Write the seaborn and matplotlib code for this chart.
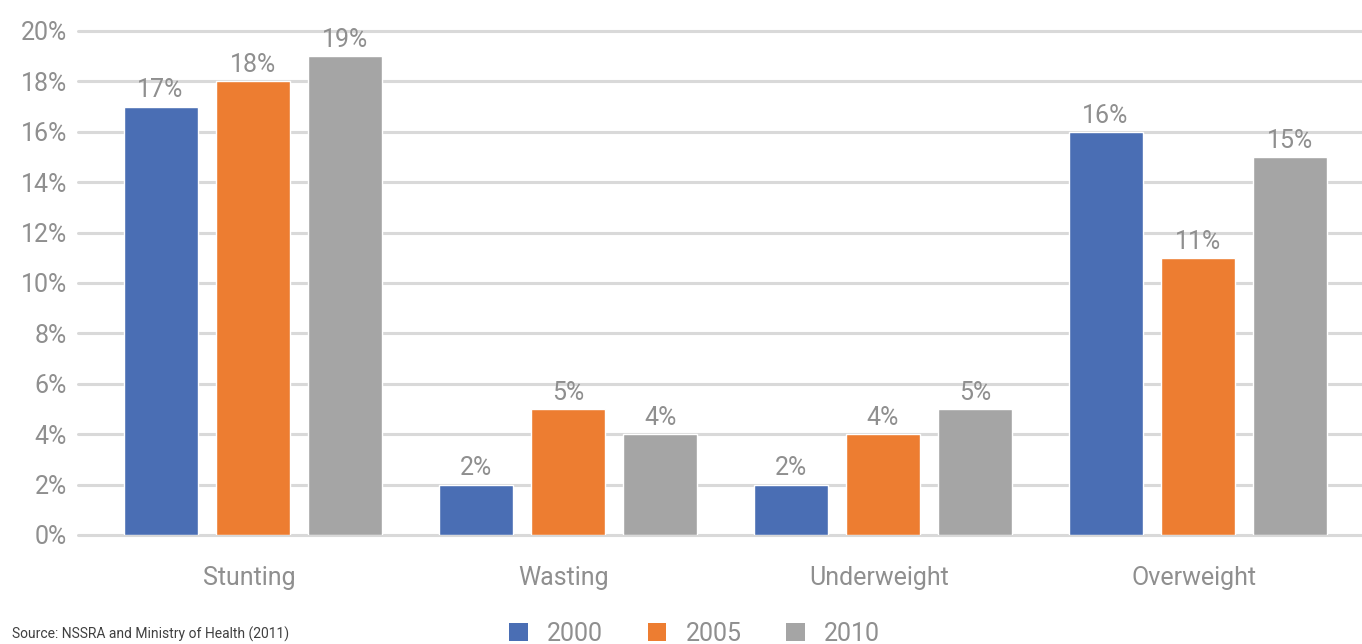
import numpy as np
import pandas as pd
import matplotlib.pyplot as plt
import matplotlib.transforms as mtransforms
import seaborn as sns
from matplotlib.patches import Patch

# data
categories = ['Stunting', 'Wasting', 'Underweight', 'Overweight']
years = ['2000', '2005', '2010']
values_2000 = [17, 2, 2, 16]
values_2005 = [18, 5, 4, 11]
values_2010 = [19, 4, 5, 15]
colors = ['#4A6EB4', '#ED7D31', '#A5A5A5']

df = pd.DataFrame({
    'category': categories * 3,
    'year': [y for y in years for _ in categories],
    'value': np.array(values_2000 + values_2005 + values_2010) / 100.0,
})

sns.set_style('white')
plt.rcParams['font.family'] = ['Roboto', 'DejaVu Sans']

fig = plt.figure(figsize=(13.62, 6.44), dpi=100)
ax = fig.add_axes([78 / 1362, 1 - 535 / 644, 1 - 78 / 1362, (535 - 31) / 644])

sns.barplot(data=df, x='category', y='value', hue='year', palette=colors,
            width=0.88, gap=0.2, saturation=1, ax=ax, legend=False, zorder=3)

text_gray = '#8F8F8F'
for container in ax.containers:
    ax.bar_label(container, labels=[f'{v * 100:.0f}%' for v in container.datavalues],
                 padding=3, fontsize=18, color=text_gray)

ax.set_ylim(0, 0.2)
ax.set_xlim((78 - 253) / 315, (1362 - 253) / 315)
ticks = np.arange(0, 0.201, 0.02)
ax.set_yticks(ticks)
ax.set_yticklabels([f'{int(round(t * 100))}%' for t in ticks])
for t in ticks:
    ax.axhline(t, color='#D9D9D9', lw=2.2, zorder=1, clip_on=False)

ax.tick_params(axis='y', length=0, labelsize=18, labelcolor=text_gray, pad=8)
ax.tick_params(axis='x', length=0, labelsize=18, labelcolor=text_gray, pad=22)
ax.set_xlabel('')
ax.set_ylabel('')
for s in ax.spines.values():
    s.set_visible(False)

# category labels sit a little left of the bar groups in the original
shift = mtransforms.ScaledTranslation(-4 / 100, 0, fig.dpi_scale_trans)
for lbl in ax.get_xticklabels():
    lbl.set_transform(lbl.get_transform() + shift)

handles = [Patch(facecolor=c, edgecolor='none') for c in colors]
fig.legend(handles, years, loc='center', bbox_to_anchor=(0.51, 1 - 634 / 644),
           ncol=3, frameon=False, fontsize=18, labelcolor=text_gray,
           handlelength=0.75, handleheight=0.75, handletextpad=0.76, columnspacing=1.8)

fig.text(12 / 1362, 1 - 634 / 644, 'Source: NSSRA and Ministry of Health (2011)',
         fontsize=10, color='#404040', va='center', ha='left')

plt.savefig('out.png', dpi=100)
plt.close()
